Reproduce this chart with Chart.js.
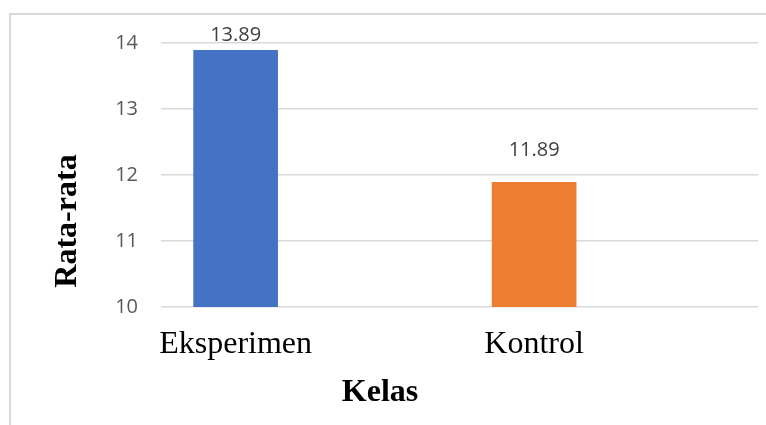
<!DOCTYPE html>
<html>
<head>
<meta charset="utf-8">
<script src="https://cdn.jsdelivr.net/npm/chart.js@4"></script>
<style>
  html, body { margin: 0; padding: 0; background: #fff; }
  #wrap { position: relative; width: 766px; height: 425px; overflow: hidden; }
  #frame { position: absolute; left: 9px; top: 13px; width: 800px; height: 500px;
           border-left: 2px solid #d9d9d9; border-top: 2px solid #d9d9d9; }
  canvas { position: absolute; left: 0; top: 0; }
</style>
</head>
<body>
<div id="wrap">
  <div id="frame"></div>
  <canvas id="chart" width="766" height="425"></canvas>
</div>
<script>
// data
const kelas = ['Eksperimen', 'Kontrol'];
const rataRata = [13.89, 11.89];
const warna = ['#4472C4', '#ED7D31'];
const yTicks = [10, 11, 12, 13, 14];

const tickFont = { family: '"Open Sans", sans-serif', size: 20 };

// value labels above bars
const labelPlugin = {
    id: 'labels',
    afterDatasetsDraw(chart) {
        const { ctx, chartArea } = chart;
        const meta = chart.getDatasetMeta(0);
        ctx.save();
        ctx.font = '20px "Open Sans", sans-serif';
        ctx.fillStyle = '#404040';
        ctx.textAlign = 'center';
        ctx.textBaseline = 'middle';
        meta.data.forEach((bar, i) => {
            const y = Math.max(bar.y - 32, chartArea.top - 8);
            ctx.fillText(rataRata[i].toFixed(2), bar.x, y);
        });
        ctx.restore();
    }
};

// axis titles (Excel puts them off-centre)
const titlePlugin = {
    id: 'titles',
    afterDraw(chart) {
        const { ctx, chartArea } = chart;
        ctx.save();
        ctx.fillStyle = '#000';
        ctx.font = 'bold 32px "Liberation Serif", "Times New Roman", serif';
        ctx.textAlign = 'center';
        ctx.textBaseline = 'alphabetic';
        ctx.fillText('Kelas', chartArea.left + 219, chartArea.bottom + 94);
        ctx.translate(76, chartArea.top + 178);
        ctx.rotate(-Math.PI / 2);
        ctx.fillText('Rata-rata', 0, 0);
        ctx.restore();
    }
};

new Chart(document.getElementById('chart'), {
    type: 'bar',
    data: {
        datasets: [{
            data: rataRata.map((v, i) => ({ x: i, y: v })),
            backgroundColor: warna,
            barThickness: 84
        }]
    },
    options: {
        responsive: false,
        animation: false,
        layout: { padding: { left: 0, right: 8, top: 43, bottom: 0 } },
        plugins: { legend: { display: false }, tooltip: { enabled: false } },
        scales: {
            x: {
                type: 'linear',
                offset: false,
                min: -0.25,
                max: 1.75,
                afterBuildTicks: s => { s.ticks = kelas.map((_, i) => ({ value: i })); },
                afterFit: s => { s.height = 118; },
                grid: { display: false },
                border: { display: false },
                ticks: {
                    callback: v => kelas[v],
                    color: '#000',
                    font: { family: '"Liberation Serif", "Times New Roman", serif', size: 32 },
                    padding: 10,
                    maxRotation: 0
                }
            },
            y: {
                min: 10,
                max: 14,
                afterBuildTicks: s => { s.ticks = yTicks.map(v => ({ value: v })); },
                afterFit: s => { s.width = 161; },
                grid: { color: '#d9d9d9', lineWidth: 1.5, drawTicks: false },
                border: { display: false },
                ticks: { color: '#595959', font: tickFont, padding: 23 }
            }
        }
    },
    plugins: [labelPlugin, titlePlugin]
});
</script>
</body>
</html>
